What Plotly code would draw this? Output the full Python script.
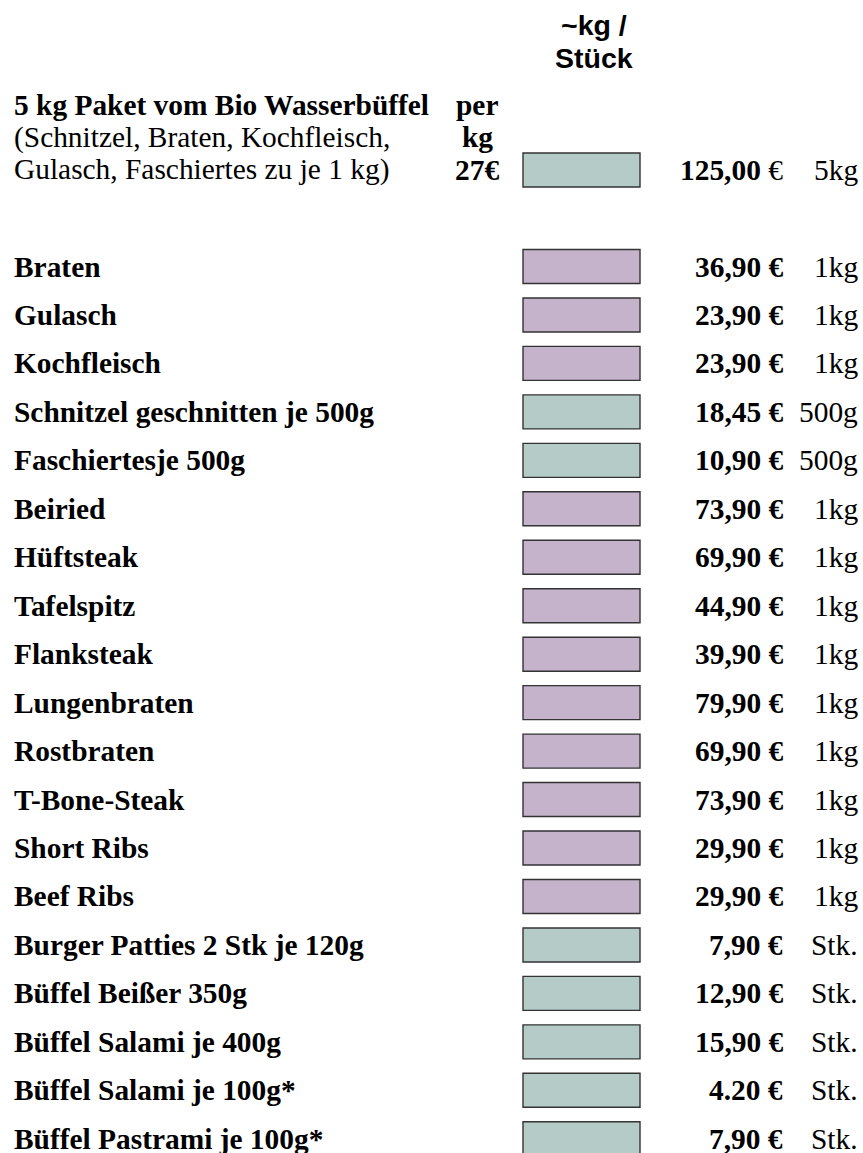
import plotly.graph_objects as go

# ---------------- data ----------------
header_lines = ["~kg /", "Stück"]
package_title = "5 kg Paket vom Bio Wasserbüffel"
package_lines = ["(Schnitzel, Braten, Kochfleisch,", "Gulasch, Faschiertes zu je 1 kg)"]
package_perkg = ["per", "kg", "27€"]
package_price = "125,00"
package_unit = "5kg"
package_group = "teal"

labels = ["Braten", "Gulasch", "Kochfleisch", "Schnitzel geschnitten je 500g",
          "Faschiertesje 500g", "Beiried", "Hüftsteak", "Tafelspitz", "Flanksteak",
          "Lungenbraten", "Rostbraten", "T-Bone-Steak", "Short Ribs", "Beef Ribs",
          "Burger Patties 2 Stk je 120g", "Büffel Beißer 350g", "Büffel Salami je 400g",
          "Büffel Salami je 100g*", "Büffel Pastrami je 100g*"]
prices = ["36,90", "23,90", "23,90", "18,45", "10,90", "73,90", "69,90", "44,90",
          "39,90", "79,90", "69,90", "73,90", "29,90", "29,90", "7,90", "12,90",
          "15,90", "4.20", "7,90"]
units = ["1kg", "1kg", "1kg", "500g", "500g", "1kg", "1kg", "1kg", "1kg", "1kg",
         "1kg", "1kg", "1kg", "1kg", "Stk.", "Stk.", "Stk.", "Stk.", "Stk."]
groups = ["lav", "lav", "lav", "teal", "teal", "lav", "lav", "lav", "lav", "lav",
          "lav", "lav", "lav", "lav", "teal", "teal", "teal", "teal", "teal"]

# ---------------- layout / style ----------------
W, H = 863, 1153
colors = {"lav": "#c5b3cc", "teal": "#b5cbc8"}
SERIF = "Liberation Serif, Times New Roman, serif"
SANS = "Liberation Sans, Arial, sans-serif"
FS = 29.4
FS_SANS = 28.5

first_row = 266.5
row_step = 48.46
row_y = [first_row + i * row_step for i in range(len(labels))]
pkg_y = 170
title_y = [104.5, 137, 169.5]

box_left, box_w, box_h = 523, 117, 34
label_x, price_x, unit_x, perkg_x, header_x = 12, 785, 860, 477, 594

fig = go.Figure()

bar_y = [pkg_y] + row_y
bar_colors = [colors[package_group]] + [colors[g] for g in groups]
fig.add_trace(go.Bar(
    orientation="h",
    y=bar_y,
    x=[box_w] * len(bar_y),
    base=[box_left] * len(bar_y),
    width=box_h,
    marker=dict(color=bar_colors, line=dict(color="#333333", width=1.4)),
    hoverinfo="skip",
    showlegend=False,
))

ann = []


def text(x, y, s, anchor="left", family=SERIF, size=FS):
    ann.append(dict(x=x, y=y, xref="x", yref="y", text=s, showarrow=False,
                    xanchor=anchor, yanchor="middle",
                    font=dict(family=family, size=size, color="#000000")))


# column header
text(header_x, 25, f"<b>{header_lines[0]}</b>", "center", SANS, FS_SANS)
text(header_x, 58, f"<b>{header_lines[1]}</b>", "center", SANS, FS_SANS)

# package block
text(label_x, title_y[0], f"<b>{package_title}</b>")
text(label_x, title_y[1], package_lines[0])
text(label_x, title_y[2], package_lines[1])
for yy, s in zip(title_y, package_perkg):
    text(perkg_x, yy, f"<b>{s}</b>", "center")
text(price_x, pkg_y, f"<b>{package_price}</b> €", "right")
text(unit_x, pkg_y, package_unit, "right")

# rows
for yy, lab, pr, un in zip(row_y, labels, prices, units):
    text(label_x, yy, f"<b>{lab}</b>")
    text(price_x, yy, f"<b>{pr} €</b>", "right")
    text(unit_x, yy, un, "right")

fig.update_layout(
    width=W, height=H,
    margin=dict(l=0, r=0, t=0, b=0),
    paper_bgcolor="white", plot_bgcolor="white",
    xaxis=dict(range=[0, W], visible=False, fixedrange=True),
    yaxis=dict(range=[H, 0], visible=False, fixedrange=True),
    annotations=ann,
    showlegend=False,
)

fig.write_html(
    "out.html",
    config={"displayModeBar": False},
    post_script="document.body.style.margin='0';document.body.style.overflow='hidden';",
)
